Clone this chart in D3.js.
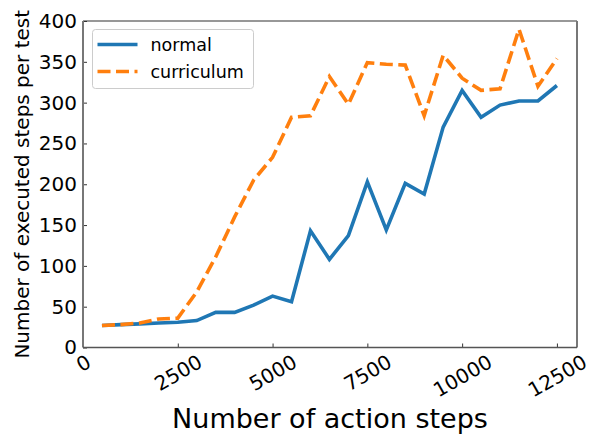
<!DOCTYPE html>
<html>
<head>
<meta charset="utf-8">
<script src="https://cdn.jsdelivr.net/npm/d3@7"></script>
<style>
  html, body { margin: 0; padding: 0; background: #fff; }
  svg text { font-family: "DejaVu Sans", sans-serif; fill: #000; }
</style>
</head>
<body>
<svg id="chart" width="595" height="435"></svg>
<script>
// Training progress: executed steps per test vs. action steps
const actionSteps = [500, 1000, 1500, 2000, 2500, 3000, 3500, 4000, 4500, 5000,
  5500, 6000, 6500, 7000, 7500, 8000, 8500, 9000, 9500, 10000,
  10500, 11000, 11500, 12000, 12500];
const normal = [27, 28, 29, 30, 31, 33, 43, 43, 52, 63,
  56, 143, 108, 137, 203, 144, 201, 188, 270, 315,
  282, 297, 302, 302, 321];
const curriculum = [27, 28, 30, 35, 36, 68, 111, 160, 205, 233,
  282, 284, 332, 298, 349, 347, 346, 284, 358, 330,
  315, 317, 390, 320, 354];
const xTicks = [0, 2500, 5000, 7500, 10000, 12500];
const yTicks = [0, 50, 100, 150, 200, 250, 300, 350, 400];
const seriesNames = ["normal", "curriculum"];
const seriesColors = ["#1f77b4", "#ff7f0e"];

const svg = d3.select("#chart");
const m = { left: 83, top: 21, right: 577, bottom: 347.5 };
const tickFont = 20;

const x = d3.scaleLinear().domain([0, 13030]).range([m.left, m.right]);
const y = d3.scaleLinear().domain([0, 400]).range([m.bottom, m.top]);

// x axis: inward ticks, labels rotated 30° and centred under each tick
const xAxis = svg.append("g")
  .attr("transform", `translate(0,${m.bottom})`)
  .call(d3.axisBottom(x).tickValues(xTicks).tickFormat(d3.format("d"))
    .tickSizeInner(-4).tickSizeOuter(0));
xAxis.select(".domain").remove();
xAxis.selectAll("line").attr("stroke", "#333").attr("stroke-width", 1);
xAxis.selectAll("text")
  .style("font-size", tickFont + "px")
  .attr("text-anchor", "middle")
  .attr("dy", "0.35em")
  .attr("y", 0)
  .each(function () {
    const w = this.getComputedTextLength();
    const h = tickFont * 0.75;
    const a = Math.PI / 6;
    const cy = 6 + (w * Math.sin(a) + h * Math.cos(a)) / 2;
    d3.select(this).attr("transform", `translate(0,${cy}) rotate(-30)`);
  });

const yAxis = svg.append("g")
  .attr("transform", `translate(${m.left},0)`)
  .call(d3.axisLeft(y).tickValues(yTicks)
    .tickSizeInner(-4).tickSizeOuter(0).tickPadding(6));
yAxis.select(".domain").remove();
yAxis.selectAll("line").attr("stroke", "#333").attr("stroke-width", 1);
yAxis.selectAll("text").style("font-size", tickFont + "px");

// lines
const line = d3.line().x((d, i) => x(actionSteps[i])).y(d => y(d));
svg.append("path").datum(normal)
  .attr("fill", "none").attr("stroke", seriesColors[0])
  .attr("stroke-width", 3.6).attr("stroke-linejoin", "miter")
  .attr("d", line);
svg.append("path").datum(curriculum)
  .attr("fill", "none").attr("stroke", seriesColors[1])
  .attr("stroke-width", 3.6).attr("stroke-dasharray", "13,5.5")
  .attr("d", line);

// frame
svg.append("line").attr("x1", m.left).attr("x2", m.right).attr("y1", m.top).attr("y2", m.top)
  .attr("stroke", "#333").attr("stroke-width", 1.2);
svg.append("line").attr("x1", m.right).attr("x2", m.right).attr("y1", m.top).attr("y2", m.bottom)
  .attr("stroke", "#777").attr("stroke-width", 2);
svg.append("line").attr("x1", m.left).attr("x2", m.left).attr("y1", m.top).attr("y2", m.bottom)
  .attr("stroke", "#777").attr("stroke-width", 2);
svg.append("line").attr("x1", m.left).attr("x2", m.right).attr("y1", m.bottom).attr("y2", m.bottom)
  .attr("stroke", "#555").attr("stroke-width", 1.6);

// axis titles
svg.append("text")
  .attr("transform", `translate(29,${(m.top + m.bottom) / 2}) rotate(-90)`)
  .attr("text-anchor", "middle")
  .style("font-size", "20px")
  .text("Number of executed steps per test");
svg.append("text")
  .attr("x", 330).attr("y", 428)
  .attr("text-anchor", "middle")
  .style("font-size", "27px")
  .text("Number of action steps");

// legend
const lg = svg.append("g").attr("transform", "translate(92.5,29.5)");
lg.append("rect").attr("width", 161).attr("height", 59).attr("rx", 3)
  .attr("fill", "#fff").attr("fill-opacity", 0.8)
  .attr("stroke", "#ccc").attr("stroke-width", 1);
seriesNames.forEach((name, i) => {
  const yy = 15 + i * 27;
  lg.append("line").attr("x1", 5).attr("x2", 45).attr("y1", yy).attr("y2", yy)
    .attr("stroke", seriesColors[i]).attr("stroke-width", 3.6)
    .attr("stroke-dasharray", i === 1 ? "13,5.5" : null);
  lg.append("text").attr("x", 58).attr("y", yy + 6)
    .style("font-size", "17.5px").text(name);
});
</script>
</body>
</html>
